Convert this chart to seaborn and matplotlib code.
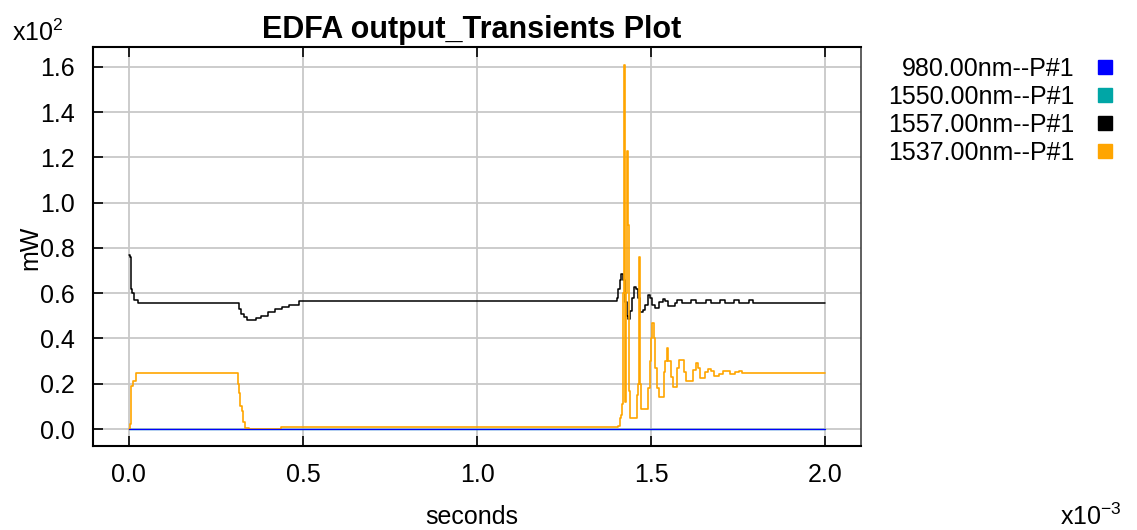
import numpy as np
import pandas as pd
import matplotlib
matplotlib.use("Agg")
import matplotlib.pyplot as plt
from matplotlib.lines import Line2D
from matplotlib.ticker import FuncFormatter, MultipleLocator
import seaborn as sns

# ---- data: time in ms, optical power in mW ----
pump_980_t = [0.0, 2.0]
pump_980_p = [0.0, 0.0]

sig_1550_t = [0.0, 2.0]
sig_1550_p = [0.0, 0.0]

sig_1557_t = [0.000, 0.004, 0.006, 0.010, 0.016, 0.025, 0.310, 0.315, 0.322, 0.330,
              0.338, 0.355, 0.365, 0.380, 0.400, 0.420, 0.440, 0.460, 0.485, 0.490,
              1.398, 1.402, 1.406, 1.410, 1.415, 1.420, 1.425, 1.430, 1.435, 1.440,
              1.445, 1.450, 1.457, 1.463, 1.468, 1.476, 1.482, 1.490, 1.497, 1.503,
              1.510, 1.516, 1.524, 1.533, 1.540, 1.548, 1.554, 1.570, 1.575, 1.585,
              1.590, 1.610, 1.615, 1.625, 1.630, 1.652, 1.657, 1.666, 1.671, 1.693,
              1.697, 1.706, 1.711, 1.734, 1.738, 1.747, 1.752, 1.777, 1.781, 1.789,
              1.793, 2.000]
sig_1557_p = [77.0, 76.0, 62.0, 60.0, 57.0, 55.5, 55.5, 53.0, 51.0, 49.5,
              48.0, 48.0, 49.0, 50.0, 51.5, 53.0, 54.0, 55.0, 55.0, 56.5,
              56.5, 58.0, 62.0, 66.0, 68.5, 66.0, 56.0, 50.0, 48.6, 52.0,
              58.0, 62.7, 62.0, 58.0, 51.8, 52.5, 55.0, 59.2, 58.0, 55.0,
              53.5, 53.5, 56.0, 57.4, 56.5, 54.5, 54.3, 55.8, 57.0, 57.0,
              55.8, 55.8, 57.0, 57.0, 55.8, 55.8, 57.0, 57.0, 55.6, 55.6,
              57.0, 57.0, 55.6, 55.6, 57.0, 57.0, 55.5, 55.5, 56.8, 56.8,
              55.5, 55.5]

sig_1537_t = [0.000, 0.003, 0.006, 0.012, 0.020, 0.310, 0.313, 0.316, 0.320, 0.324,
              0.328, 0.334, 0.345, 0.435, 0.436, 1.400, 1.406, 1.410, 1.414, 1.417,
              1.420, 1.423, 1.426, 1.428, 1.431, 1.434, 1.436, 1.440, 1.455, 1.460,
              1.463, 1.466, 1.469, 1.472, 1.485, 1.490, 1.496, 1.500, 1.503, 1.507,
              1.512, 1.518, 1.524, 1.532, 1.536, 1.540, 1.545, 1.550, 1.556, 1.562,
              1.570, 1.574, 1.580, 1.588, 1.594, 1.600, 1.612, 1.620, 1.628, 1.634,
              1.640, 1.650, 1.656, 1.664, 1.672, 1.680, 1.695, 1.706, 1.718, 1.727,
              1.740, 1.752, 1.760, 2.000]
sig_1537_p = [0.0, 2.0, 19.0, 21.0, 24.7, 24.7, 20.0, 16.0, 10.0, 8.0,
              3.0, 0.4, 0.0, 0.0, 0.7, 0.7, 1.5, 5.0, 6.0, 11.0,
              60.0, 161.0, 12.0, 60.0, 123.0, 90.0, 17.0, 5.0, 5.0, 15.0,
              20.0, 76.0, 20.0, 9.0, 9.0, 18.0, 30.0, 40.0, 47.0, 40.0,
              27.0, 18.0, 14.0, 14.0, 25.0, 30.0, 36.0, 30.0, 23.0, 18.5,
              18.5, 27.0, 30.5, 30.5, 25.0, 21.0, 21.0, 26.0, 29.0, 27.0,
              22.5, 22.5, 25.0, 26.5, 25.5, 23.5, 24.5, 25.8, 25.5, 24.5,
              25.0, 25.5, 24.9, 24.9]

labels = ["980.00nm--P#1", "1550.00nm--P#1", "1557.00nm--P#1", "1537.00nm--P#1"]
colors = ["#0000ff", "#00a6a6", "#000000", "#ffa500"]

series = [(pump_980_t, pump_980_p), (sig_1550_t, sig_1550_p),
          (sig_1557_t, sig_1557_p), (sig_1537_t, sig_1537_p)]
frames = []
for lab, (t, p) in zip(labels, series):
    frames.append(pd.DataFrame({"time_s": np.asarray(t) * 1e-3,
                                "power_mW": np.asarray(p, dtype=float),
                                "channel": lab}))
df = pd.concat(frames, ignore_index=True)

# ---- style ----
sns.set_theme(style="white")
plt.rcParams["font.family"] = ["Liberation Sans", "DejaVu Sans"]
plt.rcParams["mathtext.default"] = "regular"
plt.rcParams["text.color"] = "black"
plt.rcParams["xtick.color"] = "black"
plt.rcParams["ytick.color"] = "black"
plt.rcParams["xtick.labelcolor"] = "black"
plt.rcParams["ytick.labelcolor"] = "black"

fig = plt.figure(figsize=(11.37, 5.30), dpi=100)
ax = fig.add_axes([93 / 1137, 1 - 446 / 530, (861 - 93) / 1137, (446 - 47) / 530])

draw_order = [("1550.00nm--P#1", 1, 1.0), ("1557.00nm--P#1", 2, 1.1),
              ("1537.00nm--P#1", 3, 1.2), ("980.00nm--P#1", 4, 0.9)]
pal = dict(zip(labels, colors))
for lab, z, lw in draw_order:
    sub = df[df["channel"] == lab]
    sns.lineplot(data=sub, x="time_s", y="power_mW", ax=ax, color=pal[lab],
                 estimator=None, sort=False, drawstyle="steps-post",
                 linewidth=lw, zorder=z, legend=False)

ax.set_xlim(-0.103e-3, 2.103e-3)
ax.set_ylim(-7.5, 168.8)
ax.xaxis.set_major_locator(MultipleLocator(0.5e-3))
ax.yaxis.set_major_locator(MultipleLocator(20))
ax.xaxis.set_major_formatter(FuncFormatter(lambda v, _: f"{v * 1e3:.1f}"))
ax.yaxis.set_major_formatter(FuncFormatter(lambda v, _: f"{v / 100:.1f}"))

ax.grid(True, color="#c8c8c8", linewidth=1.3)
ax.set_axisbelow(True)
ax.tick_params(axis="x", direction="in", length=7, width=1.2, color="black",
               labelcolor="black", top=True, bottom=True, labelsize=18, pad=12)
ax.tick_params(axis="y", direction="in", length=7, width=1.2, color="black",
               labelcolor="black", left=True, right=False, labelsize=18, pad=13)
for side in ["left", "bottom", "top"]:
    ax.spines[side].set_color("black")
    ax.spines[side].set_linewidth(1.5)
ax.spines["right"].set_color("#444444")
ax.spines["right"].set_linewidth(1.2)

ax.set_xlabel("")
ax.set_ylabel("")
fig.text(30 / 1137, 1 - 248 / 530, "mW", rotation=90, fontsize=18,
         ha="center", va="center")
fig.text(472 / 1137, 1 - 517 / 530, "seconds", fontsize=18, ha="center", va="center")
fig.text(12 / 1137, 1 - 33 / 530, "x10$^{2}$", fontsize=18, ha="left", va="center")
fig.text(1060 / 1137, 1 - 517 / 530, "x10$^{-3}$", fontsize=18, ha="left", va="center")
fig.text(472 / 1137, 1 - 30 / 530, "EDFA output_Transients Plot", fontsize=22,
         fontweight="bold", ha="center", va="center")

handles = [Line2D([], [], marker="s", linestyle="", color=c, markersize=10)
           for c in colors]
fig.legend(handles, labels, loc="upper right", markerfirst=False,
           bbox_to_anchor=(1112 / 1137, 1 - 57 / 530), bbox_transform=fig.transFigure,
           frameon=False, fontsize=18, handlelength=0.6, handletextpad=0.9,
           labelspacing=0.16, borderaxespad=0, borderpad=0)

fig.savefig("out.png", dpi=100)
